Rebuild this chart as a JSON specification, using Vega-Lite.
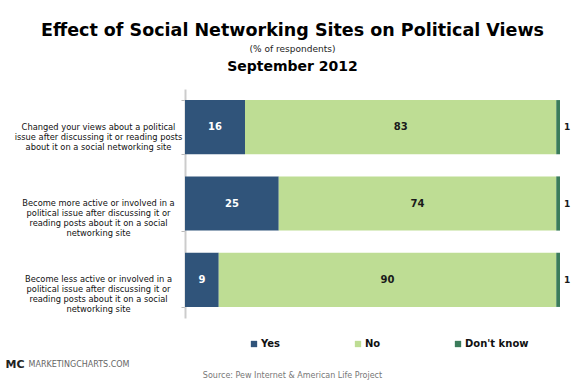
{
  "$schema": "https://vega.github.io/schema/vega-lite/v6.json",
  "width": 375,
  "height": 229,
  "autosize": {"type": "none"},
  "padding": {"left": 185, "top": 89, "right": 25, "bottom": 63},
  "background": "white",
  "config": {
    "view": {"stroke": null},
    "font": "DejaVu Sans"
  },
  "title": {
    "text": "Effect of Social Networking Sites on Political Views",
    "subtitle": "(% of respondents)",
    "font": "DejaVu Sans",
    "fontSize": 17.5,
    "fontWeight": "bold",
    "color": "#000000",
    "subtitleFont": "DejaVu Sans",
    "subtitleFontSize": 9,
    "subtitleColor": "#222222",
    "subtitlePadding": 6,
    "anchor": "middle",
    "frame": "group",
    "dx": -80,
    "dy": 3,
    "offset": 8
  },
  "data": {
    "values": [
      {"q": "Changed your views about a political|issue after discussing it or reading posts|about it on a social networking site", "resp": "Yes", "value": 16, "order": 1},
      {"q": "Changed your views about a political|issue after discussing it or reading posts|about it on a social networking site", "resp": "No", "value": 83, "order": 2},
      {"q": "Changed your views about a political|issue after discussing it or reading posts|about it on a social networking site", "resp": "Don't know", "value": 1, "order": 3},
      {"q": "Become more active or involved in a|political issue after discussing it or|reading posts about it on a social|networking site", "resp": "Yes", "value": 25, "order": 1},
      {"q": "Become more active or involved in a|political issue after discussing it or|reading posts about it on a social|networking site", "resp": "No", "value": 74, "order": 2},
      {"q": "Become more active or involved in a|political issue after discussing it or|reading posts about it on a social|networking site", "resp": "Don't know", "value": 1, "order": 3},
      {"q": "Become less active or involved in a|political issue after discussing it or|reading posts about it on a social|networking site", "resp": "Yes", "value": 9, "order": 1},
      {"q": "Become less active or involved in a|political issue after discussing it or|reading posts about it on a social|networking site", "resp": "No", "value": 90, "order": 2},
      {"q": "Become less active or involved in a|political issue after discussing it or|reading posts about it on a social|networking site", "resp": "Don't know", "value": 1, "order": 3}
    ]
  },
  "transform": [
    {"stack": "value", "groupby": ["q"], "sort": [{"field": "order", "order": "ascending"}], "as": ["v0", "v1"]},
    {"calculate": "(datum.v0 + datum.v1) / 2", "as": "mid"}
  ],
  "layer": [
    {
      "mark": {"type": "bar"},
      "encoding": {
        "y": {
          "field": "q", "type": "nominal", "sort": null,
          "scale": {"paddingInner": 0.29, "paddingOuter": 0.145},
          "axis": {
            "orient": "left",
            "title": "MC",
            "titleAngle": 0,
            "titleX": -180,
            "titleY": 275,
            "titleAlign": "left",
            "titleBaseline": "middle",
            "titleFont": "DejaVu Sans",
            "titleFontSize": 11,
            "titleFontWeight": "bold",
            "titleColor": "#222222",
            "labelExpr": "split(datum.label, '|')",
            "labelAlign": "center",
            "labelBaseline": "middle",
            "labelPadding": 83,
            "labelFontSize": 8.3,
            "labelColor": "#111111",
            "labelLineHeight": 10,
            "labelLimit": 0,
            "tickBand": "extent",
            "tickSize": 4,
            "tickColor": "#bbbbbb",
            "domainColor": "#cccccc",
            "domainWidth": 2
          }
        },
        "x": {
          "field": "v0", "type": "quantitative",
          "scale": {"domain": [0, 100], "nice": false},
          "axis": {
            "orient": "bottom",
            "labels": false, "ticks": false, "domain": false, "grid": false,
            "title": "Source: Pew Internet & American Life Project",
            "titleX": 107,
            "titleY": 57,
            "titleAlign": "center",
            "titleBaseline": "middle",
            "titleAnchor": null,
            "titleFont": "DejaVu Sans",
            "titleFontSize": 8,
            "titleFontWeight": "normal",
            "titleColor": "#777777"
          }
        },
        "x2": {"field": "v1"},
        "color": {
          "field": "resp", "type": "nominal",
          "scale": {"domain": ["Yes", "No", "Don't know"], "range": ["#30547a", "#bedd94", "#3b7c5b"]},
          "legend": {
            "orient": "none",
            "direction": "horizontal",
            "legendX": 64,
            "legendY": 250,
            "title": null,
            "symbolType": "square",
            "symbolSize": 40,
            "symbolStrokeWidth": 0,
            "labelFont": "DejaVu Sans",
            "labelFontSize": 10,
            "labelFontWeight": "bold",
            "labelColor": "#111111",
            "labelOffset": 2,
            "columnPadding": 72
          }
        }
      }
    },
    {
      "transform": [{"filter": "datum.resp != \"Don't know\""}],
      "mark": {"type": "text", "font": "DejaVu Sans", "fontSize": 10, "fontWeight": "bold", "baseline": "middle"},
      "encoding": {
        "y": {
          "field": "q", "type": "nominal", "sort": null,
          "axis": {
            "orient": "right",
            "labels": false, "ticks": false, "domain": false, "grid": false,
            "title": "MARKETINGCHARTS.COM",
            "titleAngle": 0,
            "titleX": -532,
            "titleY": 275,
            "titleAlign": "left",
            "titleBaseline": "middle",
            "titleFont": "DejaVu Sans",
            "titleFontSize": 8,
            "titleFontWeight": "normal",
            "titleColor": "#666666"
          }
        },
        "x": {
          "field": "mid", "type": "quantitative",
          "axis": {
            "orient": "top",
            "labels": false, "ticks": false, "domain": false, "grid": false,
            "title": "September 2012",
            "titleX": 107,
            "titleY": -16,
            "titleAlign": "center",
            "titleAnchor": null,
            "titleFont": "DejaVu Sans",
            "titleFontSize": 14,
            "titleFontWeight": "bold",
            "titleColor": "#000000"
          }
        },
        "text": {"field": "value", "type": "quantitative"},
        "color": {"condition": {"test": "datum.resp == 'Yes'", "value": "white"}, "value": "#1a1a1a"}
      }
    },
    {
      "transform": [{"filter": "datum.resp == \"Don't know\""}],
      "mark": {"type": "text", "font": "DejaVu Sans", "fontSize": 9, "fontWeight": "bold", "align": "left", "dx": 4, "baseline": "middle", "color": "#1a1a1a"},
      "encoding": {
        "y": {"field": "q", "type": "nominal", "sort": null, "axis": null},
        "x": {"field": "v1", "type": "quantitative", "axis": null},
        "text": {"field": "value", "type": "quantitative"}
      }
    }
  ],
  "resolve": {"axis": {"x": "independent", "y": "independent"}}
}
